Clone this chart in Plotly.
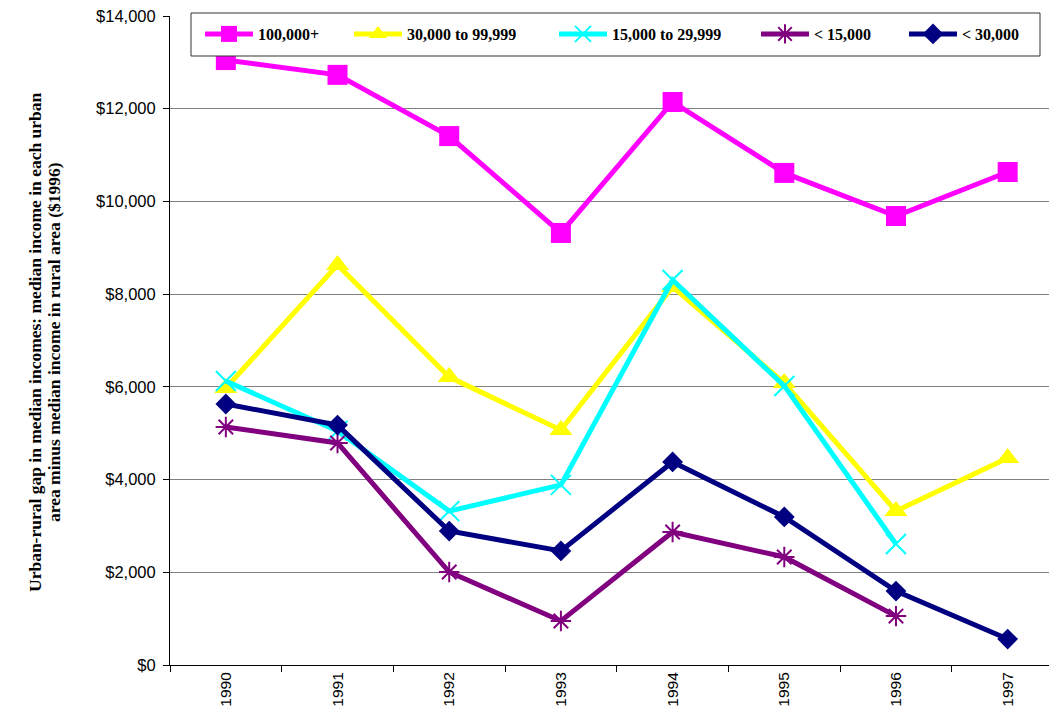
import plotly.graph_objects as go

years = ["1990", "1991", "1992", "1993", "1994", "1995", "1996", "1997"]

gap_100k_plus = [13050, 12730, 11410, 9320, 12145, 10615, 9685, 10635]
gap_30k_to_99k = [5975, 8630, 6210, 5070, 8155, 6085, 3320, 4465]
gap_15k_to_29k = [6125, 5050, 3320, 3885, 8305, 6020, 2610, None]
gap_under_15k = [5135, 4790, 2005, 950, 2870, 2330, 1055, None]
gap_under_30k = [5630, 5175, 2890, 2460, 4380, 3195, 1595, 560]

y_ticks = [0, 2000, 4000, 6000, 8000, 10000, 12000, 14000]
y_tick_text = ["$0", "$2,000", "$4,000", "$6,000", "$8,000", "$10,000", "$12,000", "$14,000"]

series = [
    ("100,000+", gap_100k_plus, "#FF00FF", dict(symbol="square", size=20)),
    ("30,000 to 99,999", gap_30k_to_99k, "#FFFF00", dict(symbol="triangle-up", size=20)),
    ("15,000 to 29,999", gap_15k_to_29k, "#00FFFF",
     dict(symbol="x-thin-open", size=20, line=dict(color="#00FFFF", width=2))),
    ("< 15,000", gap_under_15k, "#800080",
     dict(symbol="asterisk-open", size=17, line=dict(color="#800080", width=2))),
    ("< 30,000", gap_under_30k, "#000080", dict(symbol="diamond", size=16)),
]

# plot area in pixels (used to place the legend entries and the axis title)
W, H = 1049, 717
L, R, T, B = 170, 0, 16, 52
pw, ph = W - L - R, H - T - B


def px_x(x):
    return (x - L) / pw


def px_y(y):
    return (H - B - y) / ph


legend_starts = [200, 349, 554, 756, 904]
legend_names = ["legend", "legend2", "legend3", "legend4", "legend5"]

fig = go.Figure()
for (name, vals, color, marker), lg in zip(series, legend_names):
    m = dict(color=color)
    m.update(marker)
    fig.add_trace(go.Scatter(
        x=years, y=vals, name=name, mode="lines+markers",
        line=dict(color=color, width=5), marker=m, connectgaps=False,
        legend=lg,
    ))

legend_font = dict(family="Liberation Serif", size=16, color="black", weight="bold")
legend_layout = {}
for lg, xs in zip(legend_names, legend_starts):
    legend_layout[lg] = dict(
        orientation="h", x=px_x(xs), y=px_y(34), xanchor="left", yanchor="middle",
        bgcolor="rgba(0,0,0,0)", borderwidth=0, font=legend_font, itemwidth=48,
    )

fig.update_layout(
    width=W, height=H,
    margin=dict(l=L, r=R, t=T, b=B),
    paper_bgcolor="white", plot_bgcolor="white",
    showlegend=True,
    font=dict(family="Liberation Sans", size=13, color="black"),
    **legend_layout,
)

# legend frame
fig.add_shape(
    type="rect", xref="paper", yref="paper",
    x0=px_x(191), x1=px_x(1040), y0=px_y(56), y1=px_y(13),
    fillcolor="white", line=dict(color="#333333", width=1), layer="above",
)

# two-line rotated axis title
title_lines = [
    "Urban-rural gap in median incomes: median income in each urban",
    "area minus median income in rural area ($1996)",
]
for line_text, cx in zip(title_lines, [35, 54]):
    fig.add_annotation(
        text=f"<b>{line_text}</b>", xref="paper", yref="paper",
        x=px_x(cx), y=px_y(342), xanchor="center", yanchor="middle",
        textangle=-90, showarrow=False,
        font=dict(family="Liberation Serif", size=17.5, color="black"),
    )

fig.update_xaxes(
    type="category", range=[-0.5, 7.37],
    showline=True, linecolor="black", linewidth=1,
    ticks="outside", ticklen=6, tickcolor="black", tickson="boundaries",
    tickangle=-90, showgrid=False,
    tickfont=dict(family="Liberation Sans", size=15.5),
)
fig.update_yaxes(
    range=[0, 14000], tickvals=y_ticks, ticktext=y_tick_text,
    showline=True, linecolor="black", linewidth=1,
    ticks="outside", ticklen=6, tickcolor="black", ticklabelstandoff=4,
    showgrid=True, gridcolor="#808080", gridwidth=1,
    zeroline=False,
    tickfont=dict(family="Liberation Sans", size=16.5),
)

fig.write_html("out.html")
